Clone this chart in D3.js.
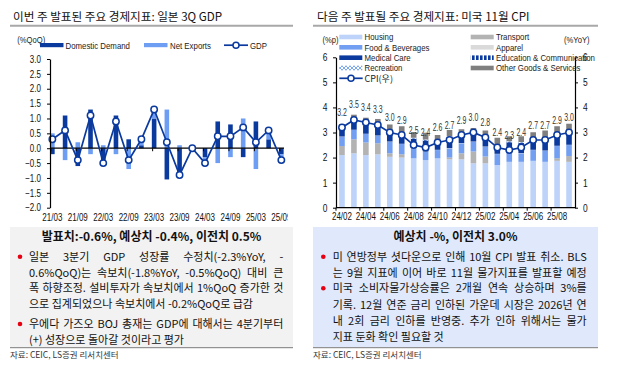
<!DOCTYPE html>
<html><head><meta charset="utf-8">
<script src="https://cdn.jsdelivr.net/npm/d3@7"></script>
<style>
body{margin:0;background:#fff;}
svg{display:block;}
.kr{font-family:"Noto Sans CJK KR","Noto Sans",sans-serif;}
.nar,.nar2{font-family:"Liberation Sans",Arial,sans-serif;}
</style></head><body>
<svg id="c" width="617" height="365"></svg>
<script>
// ---------- DATA: Japan GDP ----------
const quarters = ["21/03","21/06","21/09","21/12","22/03","22/06","22/09","22/12","23/03","23/06","23/09","23/12","24/03","24/06","24/09","24/12","25/03","25/06","25/09"];
const domesticDemand = [-0.2,1.1,-0.6,1.3,-0.6,1.1,0.3,0.1,1.0,-1.05,-1.0,0.1,-0.3,0.9,0.8,-0.3,0.9,0.3,-0.2];
const netExports     = [0.5,-0.4,0.2,-0.2,0.1,-0.2,-0.7,0.2,0.3,1.3,0.1,-0.1,-0.2,-0.5,-0.3,1.0,-0.7,0.3,-0.2];
const gdp            = [0.3,0.6,-0.4,1.1,-0.5,0.9,-0.4,0.3,1.3,0.2,-0.9,0.0,-0.5,0.4,0.4,0.7,0.2,0.6,-0.4];
const gdpTicks = [-2,-1.5,-1,-0.5,0,0.5,1,1.5,2,2.5,3];
const gdpTickLabels = ["21/03","21/09","22/03","22/09","23/03","23/09","24/03","24/09","25/03","25/09"];

// ---------- DATA: US CPI ----------
const months = ["24/02","24/03","24/04","24/05","24/06","24/07","24/08","24/09","24/10","24/11","24/12","25/01","25/02","25/03","25/04","25/05","25/06","25/07","25/08","25/09"];
const housing   = [2.10,2.17,2.10,2.13,2.03,2.00,1.97,1.90,1.97,1.93,1.93,1.77,1.77,1.70,1.83,1.83,1.87,1.83,1.87,1.83];
const transport = [0.36,0.56,0.50,0.44,0.14,0.13,0.00,0.00,0.00,0.07,0.24,0.47,0.27,0.00,0.00,0.00,0.00,0.00,0.10,0.23];
const food      = [0.37,0.37,0.34,0.30,0.46,0.41,0.40,0.33,0.33,0.37,0.40,0.39,0.39,0.44,0.41,0.34,0.43,0.44,0.49,0.44];
const apparel   = [0.01,0.01,0.01,0.01,0.01,0.01,0.01,0.01,0.01,0.01,0.01,0.01,0.01,0.01,0.01,0.01,0.01,0.01,0.01,0.01];
const medical   = [0.30,0.36,0.33,0.33,0.31,0.33,0.37,0.44,0.25,0.44,0.24,0.37,0.37,0.33,0.36,0.40,0.43,0.47,0.41,0.50];
const education = [0.02,0.02,0.02,0.02,0.02,0.02,0.02,0.02,0.02,0.02,0.02,0.02,0.02,0.02,0.02,0.02,0.02,0.02,0.02,0.02];
const recreation= [0.02,0.02,0.02,0.02,0.02,0.02,0.02,0.02,0.02,0.02,0.02,0.02,0.02,0.02,0.02,0.02,0.02,0.02,0.02,0.02];
const otherGoods= [0.16,0.20,0.27,0.29,0.33,0.33,0.23,0.27,0.30,0.24,0.27,0.13,0.23,0.27,0.20,0.23,0.23,0.29,0.33,0.30];
const cpi       = [3.2,3.5,3.4,3.3,3.0,2.9,2.5,2.4,2.6,2.7,2.9,3.0,2.8,2.4,2.3,2.4,2.7,2.7,2.9,3.0];
const cpiTicks = [0,1,2,3,4,5,6];
const cpiTickLabels = ["24/02","24/04","24/06","24/08","24/10","24/12","25/02","25/04","25/06","25/08"];

// ---------- TEXT ----------
const leftTitle = "이번 주 발표된 주요 경제지표: 일본 3Q GDP";
const rightTitle = "다음 주 발표될 주요 경제지표: 미국 11월 CPI";
const leftHeader = "발표치:-0.6%, 예상치 -0.4%, 이전치 0.5%";
const rightHeader = "예상치 -%, 이전치 3.0%";
const leftLines = [
  ["일본 3분기 GDP 성장률 수정치(-2.3%YoY, -", true, true],
  ["0.6%QoQ)는 속보치(-1.8%YoY, -0.5%QoQ) 대비 큰", true, false],
  ["폭 하향조정. 설비투자가 속보치에서 1%QoQ 증가한 것", true, false],
  ["으로 집계되었으나 속보치에서 -0.2%QoQ로 급감", false, false],
  ["우에다 가즈오 BOJ 총재는 GDP에 대해서는 4분기부터", true, true],
  ["(+) 성장으로 돌아갈 것이라고 평가", false, false]
];
const rightLines = [
  ["미 연방정부 셧다운으로 인해 10월 CPI 발표 취소. BLS", true, true],
  ["는 9월 지표에 이어 바로 11월 물가지표를 발표할 예정", true, false],
  ["미국 소비자물가상승률은 2개월 연속 상승하며 3%를", true, true],
  ["기록. 12월 연준 금리 인하된 가운데 시장은 2026년 연", true, false],
  ["내 2회 금리 인하를 반영중. 추가 인하 위해서는 물가", true, false],
  ["지표 둔화 확인 필요할 것", false, false]
];
const source = "자료: CEIC, LS증권 리서치센터";

// ---------- STYLE ----------
const NAVY = "#0b3a9f", LIGHT = "#6d9ef4";
const C = {housing:"#bdd3fa", transport:"#b3b3b3", food:"#729ff2", apparel:"#dadada",
           medical:NAVY, education:"url(#patEdu)", recreation:"url(#patRec)", otherGoods:"#7f7f7f"};

const svg = d3.select("#c");
const defs = svg.append("defs");
defs.append("clipPath").attr("id","clipL").append("rect").attr("x",0).attr("y",0).attr("width",288).attr("height",230);
const pe = defs.append("pattern").attr("id","patEdu").attr("patternUnits","userSpaceOnUse").attr("width",4).attr("height",4);
pe.append("rect").attr("width",4).attr("height",4).attr("fill",NAVY);
pe.append("rect").attr("x",2.6).attr("width",1.4).attr("height",4).attr("fill","#fff");
const pr = defs.append("pattern").attr("id","patRec").attr("patternUnits","userSpaceOnUse").attr("width",4).attr("height",4);
pr.append("rect").attr("width",4).attr("height",4).attr("fill","#fff");
pr.append("path").attr("d","M0,0L4,4M4,0L0,4").attr("stroke","#6d9ef4").attr("stroke-width",0.9);

// ---------- titles ----------
function titleBlock(x, text, r0, r1){
  svg.append("text").attr("class","kr").attr("x",x).attr("y",20.5).attr("font-size",11.6)
     .attr("fill","#111").text(text);
  svg.append("line").attr("x1",r0).attr("x2",r1).attr("y1",25.8).attr("y2",25.8)
     .attr("stroke","#a8a8a8").attr("stroke-width",2);
}
titleBlock(13, leftTitle, 10, 293);
titleBlock(317, rightTitle, 313, 598);

// ================= LEFT CHART =================
const xL = d3.scaleBand().domain(quarters).range([46, 287.7]);
const yL = d3.scaleLinear().domain([-2,3]).range([207.7,59]);
const gL = svg.append("g").attr("clip-path","url(#clipL)");
const rowsL = quarters.map((q,i)=>({q, dom:domesticDemand[i], nx:netExports[i]}));
const stackL = d3.stack().keys(["dom","nx"]).offset(d3.stackOffsetDiverging)(rowsL);
const colL = {dom:NAVY, nx:LIGHT};
const bwL = 4.6;
const cxL = q => xL(q) + xL.bandwidth()/2;
stackL.forEach(s=>{
  gL.append("g").selectAll("rect").data(s).join("rect")
    .attr("x", d=>cxL(d.data.q)-bwL/2).attr("width",bwL)
    .attr("y", d=>yL(Math.max(d[0],d[1]))).attr("height", d=>Math.abs(yL(d[0])-yL(d[1])))
    .attr("fill", colL[s.key]);
});
gL.append("line").attr("x1",50).attr("x2",284).attr("y1",yL(0)).attr("y2",yL(0)).attr("stroke","#000").attr("stroke-width",1.2);
gL.append("g").selectAll("line").data(gdpTickLabels).join("line")
  .attr("x1",d=>cxL(d)-1.5).attr("x2",d=>cxL(d)-1.5).attr("y1",yL(0)).attr("y2",yL(0)+3).attr("stroke","#000");
const axL = svg.append("g").attr("transform","translate(50,0)")
  .call(d3.axisLeft(yL).tickValues(gdpTicks).tickFormat(d3.format(".1f")).tickSize(3).tickSizeOuter(0).tickPadding(6));
axL.selectAll("text").attr("class","nar").attr("font-size",10).attr("fill","#111");
axL.select(".domain").attr("stroke","#000").attr("stroke-width",1.2);
gL.append("g").selectAll("text").data(gdpTickLabels).join("text").attr("class","nar")
  .attr("x",d=>cxL(d)).attr("y",220.5).attr("text-anchor","middle").attr("font-size",10).attr("fill","#111").text(d=>d);
gL.append("path").datum(gdp).attr("fill","none").attr("stroke",NAVY).attr("stroke-width",1.7)
  .attr("d", d3.line().x((d,i)=>cxL(quarters[i])).y(d=>yL(d)));
gL.append("g").selectAll("circle").data(gdp).join("circle")
  .attr("cx",(d,i)=>cxL(quarters[i])).attr("cy",d=>yL(d)).attr("r",3.2)
  .attr("fill","#fff").attr("stroke",NAVY).attr("stroke-width",1.5);
// legend
svg.append("text").attr("class","nar").attr("x",17.3).attr("y",42.5).attr("font-size",9.5).attr("fill","#222").text("(%QoQ)");
svg.append("rect").attr("x",40).attr("y",43).attr("width",23.5).attr("height",4.2).attr("fill",NAVY);
svg.append("text").attr("class","nar").attr("x",65.5).attr("y",48.8).attr("font-size",9.8).attr("fill","#222").text("Domestic Demand");
svg.append("rect").attr("x",144).attr("y",43).attr("width",23.5).attr("height",4.2).attr("fill",LIGHT);
svg.append("text").attr("class","nar").attr("x",170).attr("y",48.8).attr("font-size",9.8).attr("fill","#222").text("Net Exports");
svg.append("line").attr("x1",224).attr("x2",248).attr("y1",45.2).attr("y2",45.2).attr("stroke",NAVY).attr("stroke-width",1.7);
svg.append("circle").attr("cx",236).attr("cy",45.2).attr("r",3).attr("fill","#fff").attr("stroke",NAVY).attr("stroke-width",1.5);
svg.append("text").attr("class","nar").attr("x",250).attr("y",48.8).attr("font-size",9.8).attr("fill","#222").text("GDP");

// ================= RIGHT CHART =================
const xR = d3.scaleBand().domain(months).range([336, 575]);
const yR = d3.scaleLinear().domain([0,6]).range([207.7,57.3]);
const keysR = ["housing","transport","food","apparel","medical","education","recreation","otherGoods"];
const seriesR = {housing,transport,food,apparel,medical,education,recreation,otherGoods};
const rowsR = months.map((m,i)=>{const o={m}; keysR.forEach(k=>o[k]=seriesR[k][i]); return o;});
const stackR = d3.stack().keys(keysR)(rowsR);
const bwR = 5.6;
const cxR = m => xR(m) + xR.bandwidth()/2;
const gR = svg.append("g");
stackR.forEach(s=>{
  gR.append("g").selectAll("rect").data(s).join("rect")
    .attr("x", d=>cxR(d.data.m)-bwR/2).attr("width",bwR)
    .attr("y", d=>yR(d[1])).attr("height", d=>Math.max(0,yR(d[0])-yR(d[1])))
    .attr("fill", C[s.key]);
});
const axR1 = svg.append("g").attr("transform","translate(336,0)")
  .call(d3.axisLeft(yR).tickValues(cpiTicks).tickFormat(d3.format("d")).tickSize(3).tickSizeOuter(0).tickPadding(5.5));
const axR2 = svg.append("g").attr("transform","translate(575,0)")
  .call(d3.axisRight(yR).tickValues(cpiTicks).tickFormat(d3.format("d")).tickSize(3).tickSizeOuter(0).tickPadding(5));
[axR1,axR2].forEach(a=>{a.selectAll("text").attr("class","nar").attr("font-size",10.5).attr("fill","#111");
  a.select(".domain").attr("stroke","#000").attr("stroke-width",1.2);});
svg.append("line").attr("x1",336).attr("x2",575).attr("y1",yR(0)).attr("y2",yR(0)).attr("stroke","#000").attr("stroke-width",1.2);
svg.append("g").selectAll("line").data(cpiTickLabels).join("line")
  .attr("x1",d=>xR(d)).attr("x2",d=>xR(d)).attr("y1",yR(0)).attr("y2",yR(0)+3).attr("stroke","#000");
svg.append("g").selectAll("text").data(cpiTickLabels).join("text").attr("class","nar")
  .attr("x",d=>cxR(d)).attr("y",219.5).attr("text-anchor","middle").attr("font-size",10).attr("fill","#111").text(d=>d);
gR.append("path").datum(cpi).attr("fill","none").attr("stroke",NAVY).attr("stroke-width",1.7)
  .attr("d", d3.line().x((d,i)=>cxR(months[i])).y(d=>yR(d)));
gR.append("g").selectAll("circle").data(cpi).join("circle")
  .attr("cx",(d,i)=>cxR(months[i])).attr("cy",d=>yR(d)).attr("r",3.2)
  .attr("fill","#fff").attr("stroke",NAVY).attr("stroke-width",1.5);
gR.append("g").selectAll("text").data(cpi).join("text").attr("class","nar2")
  .attr("x",(d,i)=>cxR(months[i])).attr("y",d=>yR(d)-11.5).attr("text-anchor","middle")
  .attr("font-size",10.5).attr("fill","#333").text(d=>d3.format(".1f")(d));
// legend
svg.append("text").attr("class","nar").attr("x",322.5).attr("y",43).attr("font-size",9.5).attr("fill","#222").text("(%p)");
svg.append("text").attr("class","nar").attr("x",564).attr("y",43).attr("font-size",9.5).attr("fill","#222").text("(%YoY)");
const legR = [
  ["Housing","housing",0,0],["Transport","transport",1,0],
  ["Food & Beverages","food",0,1],["Apparel","apparel",1,1],
  ["Medical Care","medical",0,2],["Education & Communication","education",1,2],
  ["Recreation","recreation",0,3],["Other Goods & Services","otherGoods",1,3]
];
const rowY = [37,47.3,57.7,68,78.3];
legR.forEach(([label,key,col,row])=>{
  const sx = col? 470.7 : 339.3, tx = col? 496 : 364.5;
  svg.append("rect").attr("x",sx).attr("y",rowY[row]-2.3).attr("width",23).attr("height",4.6).attr("fill",C[key]);
  svg.append("text").attr("class","nar").attr("x",tx).attr("y",rowY[row]+3.4).attr("font-size",9.8).attr("fill","#222").text(label);
});
svg.append("line").attr("x1",339.3).attr("x2",362.7).attr("y1",rowY[4]).attr("y2",rowY[4]).attr("stroke",NAVY).attr("stroke-width",1.7);
svg.append("circle").attr("cx",351).attr("cy",rowY[4]).attr("r",3).attr("fill","#fff").attr("stroke",NAVY).attr("stroke-width",1.5);
svg.append("text").attr("class","kr").attr("x",364.5).attr("y",rowY[4]+3.4).attr("font-size",9).attr("fill","#222").text("CPI(우)");

// condense latin texts (no narrow font installed)
function condense(sel, f){
  sel.each(function(){
    const L = this.getComputedTextLength();
    if(L>0) d3.select(this).attr("textLength", L*f).attr("lengthAdjust","spacingAndGlyphs");
  });
}
condense(svg.selectAll("text.nar"), 0.8);
condense(svg.selectAll("text.nar2"), 0.66);

// ================= TEXT BOXES =================
function textBox(x0,x1,bg,header,lines,ys,bulletX,tx0,tx1){
  svg.append("rect").attr("x",x0).attr("y",227).attr("width",x1-x0).attr("height",120).attr("fill",bg);
  svg.append("text").attr("class","kr").attr("x",(x0+x1)/2).attr("y",240.5).attr("text-anchor","middle")
    .attr("font-size",12).attr("font-weight","bold").attr("fill","#111").text(header);
  lines.forEach(([txt,just,bullet],i)=>{
    const y = ys[i];
    if(bullet) svg.append("circle").attr("cx",bulletX).attr("cy",y).attr("r",2.3).attr("fill","#e60012");
    const t = svg.append("text").attr("class","kr").attr("y",y+4).attr("font-size",11).attr("fill","#111");
    if(!just){ t.attr("x",tx0).text(txt); return; }
    const words = txt.split(" ");
    const spans = words.map(w=>t.append("tspan").text(w));
    const widths = spans.map(s=>s.node().getComputedTextLength());
    const total = d3.sum(widths);
    let gap = (tx1-tx0-total)/(words.length-1);
    if(gap < 2){
      t.selectAll("tspan").remove();
      t.attr("x",tx0).text(txt).attr("textLength",tx1-tx0).attr("lengthAdjust","spacingAndGlyphs");
      return;
    }
    let x = tx0;
    spans.forEach((s,j)=>{ s.attr("x",x); x += widths[j]+gap; });
  });
  svg.append("line").attr("x1",x0).attr("x2",x1).attr("y1",347.7).attr("y2",347.7).attr("stroke","#555").attr("stroke-width",0.8);
  svg.append("text").attr("class","kr").attr("x",x0).attr("y",357.5).attr("font-size",8.5).attr("fill","#333").text(source);
}
textBox(10,293,"#f2f2f2",leftHeader,leftLines,[256.7,272.7,288.3,304,324,340],20,29,283.3);
textBox(313,598,"#e0e9fb",rightHeader,rightLines,[256.7,272.7,288.3,305,320.7,337.3],323.3,332.7,586.7);
</script>
</body></html>
